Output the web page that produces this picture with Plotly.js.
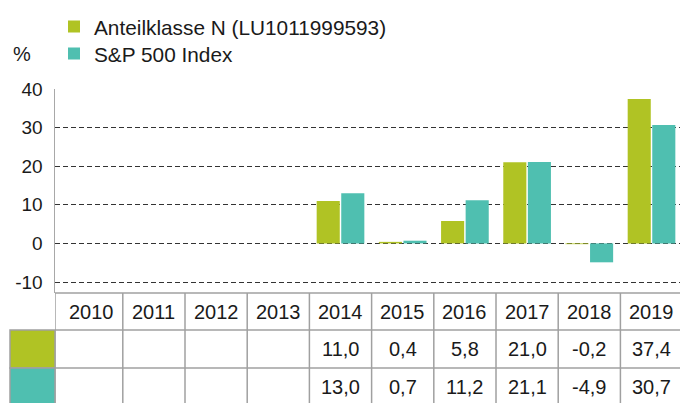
<!DOCTYPE html>
<html><head><meta charset="utf-8">
<script src="https://cdn.plot.ly/plotly-3.0.1.min.js"></script>
<style>html,body{margin:0;padding:0;overflow:hidden;background:#fff}</style>
</head><body><div id="chart" style="width:680px;height:403px"></div>
<script>
// ---- data ----
const years = ['2010','2011','2012','2013','2014','2015','2016','2017','2018','2019'];
const fundName = 'Anteilklasse N (LU1011999593)';
const indexName = 'S&P 500 Index';
const fundValues = [null,null,null,null,11.0,0.4,5.8,21.0,-0.2,37.4];
const indexValues = [null,null,null,null,13.0,0.7,11.2,21.1,-4.9,30.7];
const yTickValues = [-10,0,10,20,30,40];
const yTickLabels = ['-10','0','10','20','30','40'];
const unitLabel = '%';

// ---- style ----
const GREEN = '#b0c324';
const TEAL = '#4fbfb0';
const GRID = '#a0a0a0';
const FONT = '"Liberation Sans", Arial, sans-serif';
const TXT = '#1a1a1a';

const W = 680, H = 403, L = 55, T = 89, B = 110;
const PH = H - T - B, PW = W - L;
const py = px => (H - B - px) / PH;   // pixel -> paper y
const pxX = px => (px - L) / PW;      // pixel -> paper x

const xMin = -0.59, xMax = 9.458;
const tableRight = 9.6;
const rowY = [py(293), py(330), py(368), py(408)];
const rowMid = [py(311.5), py(349), py(386.5)];

const fmt = v => (v === null ? '' : v.toFixed(1).replace('.', ','));

const shapes = [];
const annotations = [];
const ln = () => ({color: GRID, width: 1.5});

// colored row headers (left of the plot area)
shapes.push({type:'rect', xref:'paper', yref:'paper', x0:pxX(10), x1:0, y0:rowY[1], y1:rowY[2], fillcolor:GREEN, line:ln(), layer:'above'});
shapes.push({type:'rect', xref:'paper', yref:'paper', x0:pxX(10), x1:0, y0:rowY[2], y1:rowY[3], fillcolor:TEAL, line:ln(), layer:'above'});
// horizontal table lines
for (let r = 0; r < 3; r++) {
  shapes.push({type:'line', xref:'x', yref:'paper', x0:xMin, x1:tableRight, y0:rowY[r], y1:rowY[r], line:ln()});
}
// vertical table lines
shapes.push({type:'line', xref:'x', yref:'paper', x0:xMin, x1:xMin, y0:rowY[0], y1:rowY[3], line:ln()});
for (let i = 0; i < years.length; i++) {
  const xb = i + 0.5;
  shapes.push({type:'line', xref:'x', yref:'paper', x0:xb, x1:xb, y0:rowY[0], y1:rowY[3], line:ln()});
}

const tf = {family: FONT, size: 20, color: TXT};
years.forEach((yr, i) => {
  const cx = (Math.max(i - 0.5, xMin) + (i + 0.5)) / 2;
  annotations.push({xref:'x', yref:'paper', x:cx, y:rowMid[0], text:yr, showarrow:false, xanchor:'center', yanchor:'middle', font:tf});
  annotations.push({xref:'x', yref:'paper', x:cx, y:rowMid[1], text:fmt(fundValues[i]), showarrow:false, xanchor:'center', yanchor:'middle', font:tf});
  annotations.push({xref:'x', yref:'paper', x:cx, y:rowMid[2], text:fmt(indexValues[i]), showarrow:false, xanchor:'center', yanchor:'middle', font:tf});
});
annotations.push({xref:'paper', yref:'paper', x:pxX(21.5), y:py(54), text:unitLabel, showarrow:false, xanchor:'center', yanchor:'middle', font:{family:FONT, size:20, color:TXT}});

const data = [
  {type:'bar', name:fundName, x:years, y:fundValues, marker:{color:GREEN}, hoverinfo:'skip', legend:'legend'},
  {type:'bar', name:indexName, x:years, y:indexValues, marker:{color:TEAL}, hoverinfo:'skip', legend:'legend2'}
];

const legendStyle = {font:{family:FONT, size:20.8, color:TXT}, bgcolor:'rgba(0,0,0,0)', borderwidth:0, xanchor:'left', yanchor:'middle'};

const layout = {
  width: W, height: H, autosize: false,
  margin: {l: L, r: 0, t: T, b: B, pad: 0},
  paper_bgcolor: '#fff', plot_bgcolor: '#fff',
  barmode: 'group', bargap: 0.21, bargroupgap: 0.06,
  font: {family: FONT, size: 18, color: TXT},
  xaxis: {type:'category', range:[xMin, xMax], showticklabels:false, showgrid:false, zeroline:false, showline:false, ticks:'', fixedrange:true},
  yaxis: {range:[-12.85, 40], tickvals:yTickValues, ticktext:yTickLabels, showgrid:true, gridcolor:'#333', gridwidth:1, griddash:'5px,3px',
          zeroline:false, showline:true, linecolor:'#a8a8a8', linewidth:1.5, ticks:'', ticklabelstandoff:7,
          tickfont:{family:FONT, size:19, color:TXT}, fixedrange:true},
  showlegend: true,
  legend: Object.assign({x: pxX(54), y: py(27)}, legendStyle),
  legend2: Object.assign({x: pxX(54), y: py(54)}, legendStyle),
  shapes, annotations
};

Plotly.newPlot('chart', data, layout, {displayModeBar:false, staticPlot:true});
</script>
</body></html>
